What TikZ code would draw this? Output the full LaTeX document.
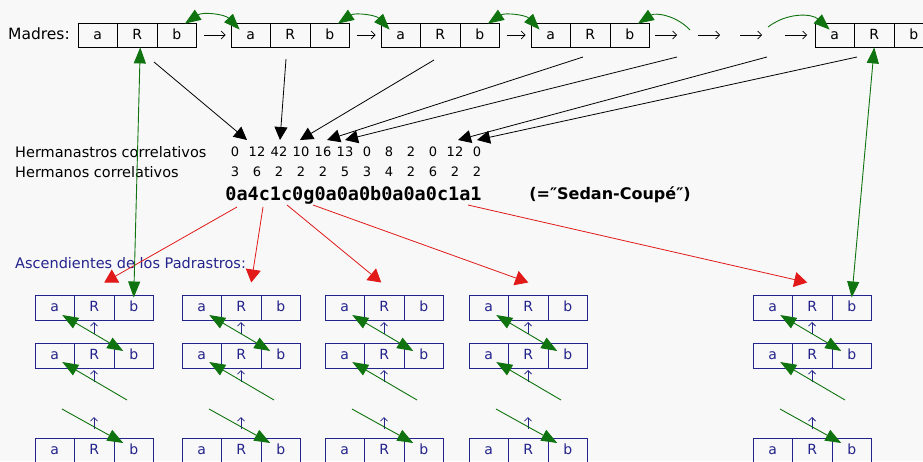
\documentclass[tikz,border=0pt]{standalone}
\usepackage{fontspec}
\setmainfont{DejaVu Sans}
\newfontfamily\codefont{DejaVu Sans Mono}
\usetikzlibrary{arrows.meta}
\usetikzlibrary{math}
\definecolor{mgreen}{RGB}{15,115,15}
\definecolor{mred}{RGB}{225,25,25}
\definecolor{mblue}{RGB}{35,35,140}
\definecolor{paper}{RGB}{248,248,248}

\tikzset{
 cell/.style={draw, line width=0.8pt, minimum width=39.5pt, minimum height=24pt, inner sep=0pt, text height=1.5ex, text depth=0pt, font=\fontsize{14}{16}\selectfont},
 pcell/.style={cell, draw=mblue, text=mblue, line width=1pt, minimum height=25pt},
 lbl/.style={inner sep=0pt, font=\fontsize{14.5}{16}\selectfont},
 num/.style={inner sep=0pt, font=\fontsize{13}{15}\selectfont},
 nextarr/.style={-{Straight Barb[length=4pt,width=8pt]}, line width=0.7pt},
 uparr/.style={-{Straight Barb[length=3.5pt,width=7pt]}, line width=0.8pt, color=mblue},
 barr/.style={-{Triangle[length=13pt,width=13pt]}, line width=0.8pt},
 rarr/.style={-{Triangle[length=13pt,width=15pt]}, line width=0.8pt, color=mred},
 garr/.style={line width=0.9pt, color=mgreen},
 gtip/.tip={Triangle[length=16pt,width=12pt]},
}

\begin{document}
\begin{tikzpicture}[x=1pt, y=-1pt]

\tikzmath{
\cw = 39.5;%cell width
\yM = 35;%madres row
\yH = 152;%hermanastros row
\yN = 172;%hermanos row
}

\fill[paper, use as bounding box] (0,0) rectangle (923,461);

%madres
\node[lbl, anchor=west, font=\fontsize{15.5}{17}\selectfont] (madres) at (8,34) {Madres:};
\foreach \i/\xl in {1/78, 2/231, 3/381, 4/531, 5/815}{
 \node[cell] (m\i-a) at (\xl+0.5*\cw,\yM) {a};
 \node[cell] (m\i-R) at (\xl+1.5*\cw,\yM) {R};
 \node[cell] (m\i-b) at (\xl+2.5*\cw,\yM) {b};
}
\foreach \i/\j in {1/2, 2/3, 3/4}{
 \draw[nextarr] ([xshift=7pt]m\i-b.east) -- ([xshift=-5pt]m\j-a.west);
 \draw[garr, {gtip}-{gtip}] ([shift={(-12,1)}]m\i-b.north east) to[bend left=40] ([shift={(9,7)}]m\j-a.north west);
}
\foreach \x in {666,709,751,796}
 \draw[nextarr] (\x-11,\yM) -- (\x+11,\yM);

%broken link over the dots
\coordinate (g1) at (690,30);
\coordinate (g2) at (768,27);
\draw[garr, {gtip}-] ([shift={(-12,1)}]m4-b.north east) to[bend left=40] (g1);
\draw[garr, -{gtip}] (g2) to[bend left=40] ([shift={(15,7)}]m5-a.north west);

%counters
\node[lbl, anchor=west] (hermanastros) at (15,\yH) {Hermanastros correlativos};
\node[lbl, anchor=west] (hermanos) at (15,\yN) {Hermanos correlativos};
\foreach \k/\ha/\hb in {0/0/3, 1/12/6, 2/42/2, 3/10/2, 4/16/2, 5/13/5, 6/0/3, 7/8/4, 8/2/2, 9/0/6, 10/12/2, 11/0/2}{
 \node[num] (h\k) at (235+22*\k,\yH) {\ha};
 \node[num] (n\k) at (235+22*\k,\yN) {\hb};
}

%arrows from the mothers
\coordinate (s1) at (154,62);
\coordinate (s2) at (286,59);
\coordinate (s3) at (434,60);
\coordinate (s4) at (583,57);
\coordinate (s5) at (677,57);
\coordinate (s6) at (767,57);
\coordinate (s7) at (857,57);
\foreach \s/\k/\dx in {1/1/-10, 2/2/1, 3/3/-1, 4/4/4, 5/5/0, 6/10/3, 7/11/0}
 \draw[barr] (s\s) -- ([shift={(\dx,-12)}]h\k.center);

\node[inner sep=0pt, font=\codefont\bfseries\fontsize{18.5}{20}\selectfont] (code) at (353.5,195) {0a4c1c0g0a0a0b0a0a0c1a1};
\node[inner sep=0pt, font=\bfseries\fontsize{16}{18}\selectfont] (sedan) at (610,195) {(=″Sedan-Coupé″)};

%padrastros
\node[lbl, anchor=west, text=mblue] (ascend) at (15,263) {Ascendientes de los Padrastros:};
\foreach \c/\xl in {1/35, 2/182, 3/325, 4/469, 5/753}{
 \foreach \r/\yc in {1/307.5, 2/355.5, 3/450.5}{
  \node[pcell] (p\c-\r-a) at (\xl+0.5*\cw,\yc) {a};
  \node[pcell] (p\c-\r-R) at (\xl+1.5*\cw,\yc) {R};
  \node[pcell] (p\c-\r-b) at (\xl+2.5*\cw,\yc) {b};
 }
 \foreach \yc in {328, 376, 423}
  \draw[uparr] (\xl+59,\yc+6) -- (\xl+59,\yc-6);
 \coordinate (u\c) at (\xl+92,400);
 \coordinate (v\c) at (\xl+27,409);
 \draw[garr, {gtip}-{gtip}] ([shift={(7.5,7.5)}]p\c-1-a.center) -- ([shift={(-10.5,-4.5)}]p\c-2-b.center);
 \draw[garr, {gtip}-] ([shift={(7.5,6.5)}]p\c-2-a.center) -- (u\c);
 \draw[garr, -{gtip}] (v\c) -- ([shift={(-10.5,-7.5)}]p\c-3-b.center);
}

%string to padrastros
\coordinate (r1) at (237,207);
\coordinate (r2) at (263,207);
\coordinate (r3) at (287,205);
\coordinate (r4) at (313,205);
\coordinate (r5) at (468,205);
\foreach \c/\dx in {1/10, 2/10, 3/-3, 4/0, 5/-5}
 \draw[rarr] (r\c) -- ([shift={(\dx,-12)}]p\c-1-R.north);

%outer links
\draw[garr, {gtip}-{gtip}] ([xshift=3pt]m1-R.south) -- ([yshift=-3pt]p1-1-b.north);
\draw[garr, {gtip}-{gtip}] (m5-R.south) -- ([yshift=-3pt]p5-1-b.north);

\end{tikzpicture}
\end{document}
